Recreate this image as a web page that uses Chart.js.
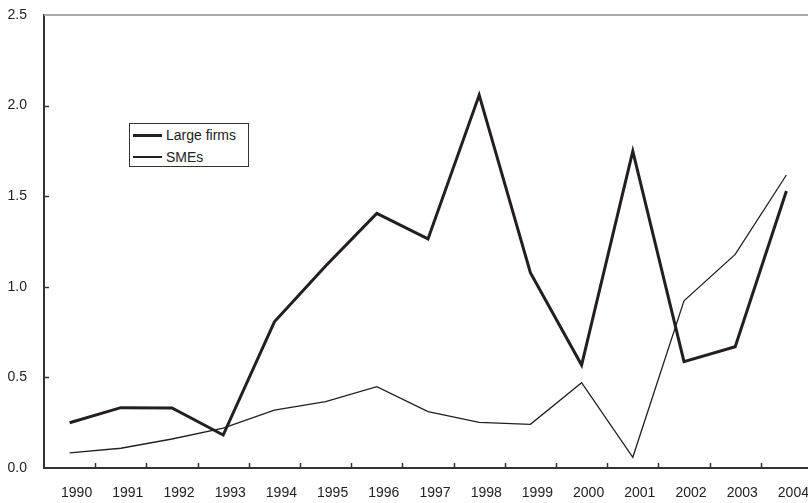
<!DOCTYPE html>
<html>
<head>
<meta charset="utf-8">
<script src="https://cdn.jsdelivr.net/npm/chart.js@4"></script>
<style>
  html, body { margin: 0; padding: 0; background: #fff; overflow: hidden; }
  #wrap { position: relative; width: 812px; height: 503px; }
  #legend {
    position: absolute; left: 129px; top: 123px; width: 118px; height: 42px;
    border: 1px solid #333; background: #fff;
    font: 14px "Liberation Sans", Arial, sans-serif; color: #222;
  }
  #legend .row { position: absolute; left: 3px; height: 16px; display: flex; align-items: center; }
  #legend .swatch { width: 29px; background: #231f20; margin-right: 4px; }
</style>
</head>
<body>
<div id="wrap">
  <canvas id="chart"></canvas>
  <div id="legend"></div>
</div>
<script>
const years = ['1990', '1991', '1992', '1993', '1994', '1995', '1996', '1997',
               '1998', '1999', '2000', '2001', '2002', '2003', '2004'];
const largeFirms = [0.25, 0.333, 0.331, 0.182, 0.807, 1.115, 1.405, 1.264,
                    2.058, 1.078, 0.568, 1.749, 0.587, 0.669, 1.529];
const smes = [0.084, 0.109, 0.16, 0.22, 0.32, 0.366, 0.449, 0.311,
              0.252, 0.241, 0.471, 0.059, 0.923, 1.179, 1.617];
const yTicks = [0, 0.5, 1.0, 1.5, 2.0, 2.5];

const ink = '#231f20';
const font = { family: '"Liberation Sans", Arial, sans-serif', size: 14 };

// short tick marks pointing into the plot, plus the grey top rule
const frame = {
  id: 'frame',
  afterDraw(chart) {
    const { ctx, chartArea } = chart;
    const x = chart.scales.x, y = chart.scales.y;
    ctx.save();
    ctx.strokeStyle = '#aaa';
    ctx.lineWidth = 2;
    ctx.beginPath();
    ctx.moveTo(chartArea.left, y.getPixelForValue(2.5));
    ctx.lineTo(chartArea.right, y.getPixelForValue(2.5));
    ctx.stroke();
    ctx.strokeStyle = '#333';
    ctx.lineWidth = 1.5;
    ctx.beginPath();
    yTicks.slice(1, -1).forEach(v => {
      const py = Math.round(y.getPixelForValue(v)) + 0.5;
      ctx.moveTo(chartArea.left, py);
      ctx.lineTo(chartArea.left + 5, py);
    });
    for (let i = 1; i < years.length; i++) {
      const px = Math.round((x.getPixelForValue(i - 1) + x.getPixelForValue(i)) / 2) + 0.5;
      ctx.moveTo(px, chartArea.bottom);
      ctx.lineTo(px, chartArea.bottom - 5);
    }
    ctx.stroke();
    ctx.restore();
  }
};

const chart = new Chart(document.getElementById('chart'), {
  type: 'line',
  data: {
    labels: years,
    datasets: [
      { label: 'Large firms', data: largeFirms, borderColor: ink, borderWidth: 3, pointRadius: 0, tension: 0 },
      { label: 'SMEs', data: smes, borderColor: ink, borderWidth: 1.3, pointRadius: 0, tension: 0 },
    ],
  },
  options: {
    responsive: true,
    maintainAspectRatio: false,
    animation: false,
    layout: { padding: { top: 15, right: 0, bottom: 0, left: 0 } },
    plugins: { legend: { display: false }, tooltip: { enabled: false } },
    scales: {
      x: {
        offset: true,
        grid: { display: false, drawTicks: false, offset: true },
        border: { display: true, color: '#333', width: 2 },
        ticks: { color: '#222', font, padding: 17, labelOffset: 7, maxRotation: 0, autoSkip: false },
        afterFit: s => { s.height = 35; s.paddingLeft = 0; s.paddingRight = 0; },
      },
      y: {
        min: 0,
        max: 2.5,
        grid: { display: false, drawTicks: false },
        border: { display: true, color: '#333', width: 2 },
        afterBuildTicks: s => { s.ticks = yTicks.map(v => ({ value: v })); },
        ticks: { color: '#222', font, padding: 17, callback: v => v.toFixed(1) },
        afterFit: s => { s.width = 44; s.paddingTop = 0; s.paddingBottom = 0; },
      },
    },
  },
  plugins: [frame],
});

// legend box built from the dataset labels
const legend = document.getElementById('legend');
chart.data.datasets.forEach((ds, i) => {
  const row = document.createElement('div');
  row.className = 'row';
  row.style.top = (3 + i * 22) + 'px';
  const sw = document.createElement('span');
  sw.className = 'swatch';
  sw.style.height = ds.borderWidth + 'px';
  const label = document.createElement('span');
  label.textContent = ds.label;
  row.appendChild(sw);
  row.appendChild(label);
  legend.appendChild(row);
});
</script>
</body>
</html>
